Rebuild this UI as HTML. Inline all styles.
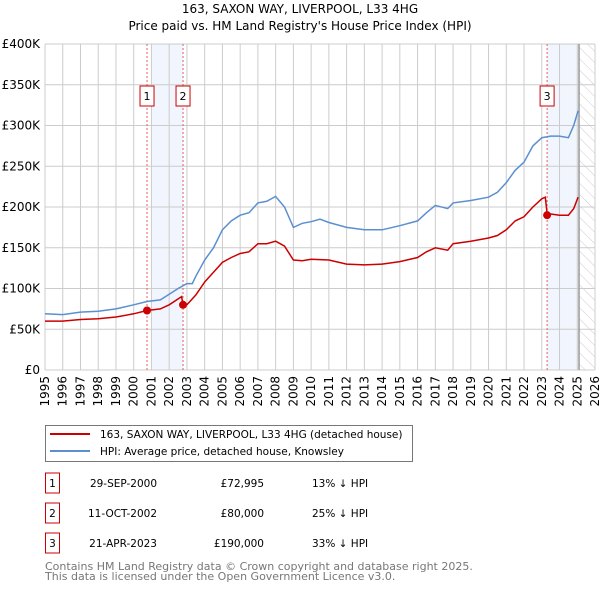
<!DOCTYPE html>
<html><head><meta charset="utf-8"><style>
body{margin:0;background:#fff;font-family:"DejaVu Sans","Liberation Sans",sans-serif;}
svg text{font-family:"DejaVu Sans","Liberation Sans",sans-serif;}
</style></head><body>
<svg id="c" width="600" height="590" xmlns="http://www.w3.org/2000/svg">
<defs><pattern id="hatch" width="8" height="8" patternUnits="userSpaceOnUse" patternTransform="rotate(-45)"><line x1="0" y1="0" x2="0" y2="8" stroke="#ccc" stroke-width="1"/></pattern></defs>
<text x="300" y="13" text-anchor="middle" font-size="12">163, SAXON WAY, LIVERPOOL, L33 4HG</text>
<text x="300" y="30" text-anchor="middle" font-size="12">Price paid vs. HM Land Registry's House Price Index (HPI)</text>
<g id="plot"></g>
<g>
<rect x="45.5" y="425.5" width="367" height="36" fill="#fff" stroke="#777"/>
<line x1="50" y1="434" x2="90" y2="434" stroke="#cc0000" stroke-width="2"/>
<text x="100" y="438" font-size="10.5">163, SAXON WAY, LIVERPOOL, L33 4HG (detached house)</text>
<line x1="50" y1="451" x2="90" y2="451" stroke="#5b8fd0" stroke-width="2"/>
<text x="100" y="455" font-size="10.5">HPI: Average price, detached house, Knowsley</text>
</g>
<g id="table" font-size="10.5"></g>
<text x="45" y="570" font-size="11" fill="#777">Contains HM Land Registry data © Crown copyright and database right 2025.</text>
<text x="45" y="580" font-size="11" fill="#777">This data is licensed under the Open Government Licence v3.0.</text>
</svg>
<script>
const hpiYears=[1995,1996,1997,1998,1999,2000,2000.75,2001.5,2002,2002.5,2003,2003.3,2003.5,2004,2004.5,2005,2005.5,2006,2006.5,2007,2007.5,2008,2008.5,2009,2009.5,2010,2010.5,2011,2012,2013,2014,2015,2016,2016.5,2017,2017.7,2018,2019,2020,2020.5,2021,2021.5,2022,2022.5,2023,2023.5,2024,2024.5,2024.8,2025.05];
const hpiValues=[69,68,71,72,75,80,84,86,93,100,106,106,115,135,150,172,183,190,193,205,207,213,200,175,180,182,185,181,175,172,172,177,183,193,202,198,205,208,212,218,230,245,255,275,285,287,287,285,300,318];
const priceYears=[1995,1996,1997,1998,1999,2000,2000.75,2001.5,2002,2002.7,2002.78,2003,2003.5,2004,2004.5,2005,2005.5,2006,2006.5,2007,2007.5,2008,2008.5,2009,2009.5,2010,2011,2012,2013,2014,2015,2016,2016.5,2017,2017.7,2018,2019,2020,2020.5,2021,2021.5,2022,2022.5,2023,2023.2,2023.3,2024,2024.5,2024.8,2025.05];
const priceValues=[60,60,62,63,65,69,73,75,80,90,80,80,92,108,120,132,138,143,145,155,155,158,152,135,134,136,135,130,129,130,133,138,145,150,147,155,158,162,165,172,183,188,200,210,212,192,190,190,198,212];
const saleYears=[2000.75,2002.78,2023.3];
const saleValues=[73,80,190];
const saleLabels=["1","2","3"];
const saleDates=["29-SEP-2000","11-OCT-2002","21-APR-2023"];
const salePrices=["£72,995","£80,000","£190,000"];
const salePct=["13% ↓ HPI","25% ↓ HPI","33% ↓ HPI"];
const yTicks=[0,50,100,150,200,250,300,350,400];
const yTickLabels=["£0","£50K","£100K","£150K","£200K","£250K","£300K","£350K","£400K"];
const xTicks=[1995,1996,1997,1998,1999,2000,2001,2002,2003,2004,2005,2006,2007,2008,2009,2010,2011,2012,2013,2014,2015,2016,2017,2018,2019,2020,2021,2022,2023,2024,2025,2026];

const X0=45,X1=595,Y0=370,Y1=44;
const xs=v=>X0+(v-1995)/(2026-1995)*(X1-X0);
const ys=v=>Y0-v/400*(Y0-Y1);
const NS="http://www.w3.org/2000/svg";
const plot=document.getElementById('plot');
function mk(tag,attrs,parent){const e=document.createElementNS(NS,tag);for(const k in attrs)e.setAttribute(k,attrs[k]);(parent||plot).appendChild(e);return e;}

let e;
e=mk('rect',{x:xs(2001),y:Y1,width:xs(2002.78)-xs(2001),height:Y0-Y1,fill:'#eef3fc',opacity:0.8});


e=mk('rect',{x:xs(2023.3),y:Y1,width:xs(2025.1)-xs(2023.3),height:Y0-Y1,fill:'#eef3fc',opacity:0.8});


e=mk('rect',{x:xs(2025.1),y:Y1,width:X1-xs(2025.1),height:Y0-Y1,fill:'url(#hatch)'});



xTicks.forEach((t,i)=>{
  const x=xs(t);
  e=mk('line',{x1:x,y1:Y1,x2:x,y2:Y0,stroke:'#cccccc','stroke-width':1});
  
  
  e=mk('text',{x:0,y:0,'font-size':12,'text-anchor':'end',transform:`translate(${x+4},${Y0+6}) rotate(-90)`});
  e.textContent=t;
  
  
});
yTicks.forEach((t,i)=>{
  const y=ys(t);
  e=mk('line',{x1:X0,y1:y,x2:X1,y2:y,stroke:'#cccccc','stroke-width':1});
  
  
  e=mk('text',{x:40,y:y+4,'font-size':12,'text-anchor':'end'});
  e.textContent=yTickLabels[i];
  
  
});
e=mk('line',{x1:xs(2025.1),y1:Y1,x2:xs(2025.1),y2:Y0,stroke:'#999','stroke-width':1.5});



saleYears.forEach((s,i)=>{
  const x=xs(s);
  e=mk('line',{x1:x,y1:Y1,x2:x,y2:Y0,stroke:'#e06060','stroke-width':1,'stroke-dasharray':'2,2'});
  
  
  e=mk('rect',{x:x-7,y:86,width:14,height:20,fill:'#fff',stroke:'#cc0000'});
  
  
  e=mk('text',{x:x,y:100,'font-size':11,'text-anchor':'middle'});
  e.textContent=saleLabels[i];
  
  
});

function pts(xa,va){return xa.map((x,i)=>xs(x).toFixed(1)+','+ys(va[i]).toFixed(1)).join(' ');}
e=mk('polyline',{points:pts(hpiYears,hpiValues),fill:'none',stroke:'#5b8fd0','stroke-width':1.5});


e=mk('polyline',{points:pts(priceYears,priceValues),fill:'none',stroke:'#cc0000','stroke-width':1.5});


saleYears.forEach((s,i)=>{
  e=mk('circle',{cx:xs(s),cy:ys(saleValues[i]),r:4,fill:'#cc0000'});
  
  
});

const tb=document.getElementById('table');
saleLabels.forEach((l,i)=>{
  const cy=483+i*30;
  e=mk('rect',{x:45.5,y:cy-10,width:14,height:20,fill:'#fff',stroke:'#cc0000'},tb);
  
  
  e=mk('text',{x:52.5,y:cy+4,'text-anchor':'middle'},tb);e.textContent=l;
  
  
  e=mk('text',{x:157,y:cy+4,'text-anchor':'end'},tb);e.textContent=saleDates[i];
  
  
  e=mk('text',{x:264,y:cy+4,'text-anchor':'end'},tb);e.textContent=salePrices[i];
  
  
  e=mk('text',{x:312,y:cy+4},tb);e.textContent=salePct[i];
  
  
});
</script>
</body></html>
